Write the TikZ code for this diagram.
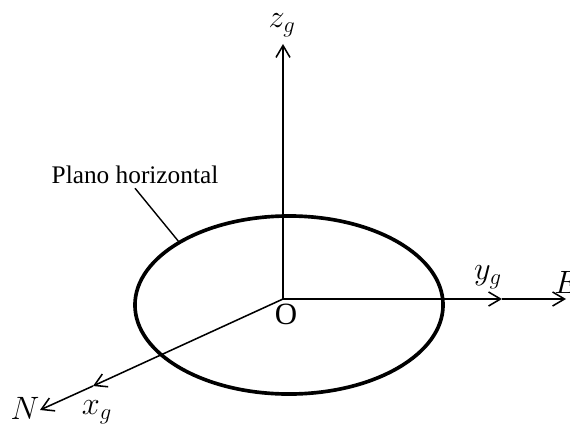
\documentclass[tikz,border=0pt]{standalone}
\usepackage{fix-cm}
\usepackage{fontspec}
\setmainfont{Liberation Serif}
\usetikzlibrary{shapes.geometric,arrows.meta}
\begin{document}
\begin{tikzpicture}[x=0.025cm, y=-0.025cm, >={Straight Barb[length=8.5pt,width=10pt]}]
        \tikzstyle{eje}=[line width=1.1pt];
        \tikzstyle{rotulo}=[font=\fontsize{23}{27}\selectfont, inner sep=0pt];
        \useasboundingbox (0,0) rectangle (570,427);

        \coordinate (O) at (283,299);
        \coordinate (ztip) at (283,44);
        \coordinate (ymid) at (502,299);
        \coordinate (ytip) at (566,299);
        \coordinate (xmid) at (93,386);
        \coordinate (xtip) at (40,410);

        \node[ellipse, draw, line width=2.6pt, minimum width=7.7cm, minimum height=4.45cm] (plano) at (289,305) {};

        \draw[eje, ->] (O) -- (ztip);
        \draw[eje, ->] (O) -- (ymid);
        \draw[eje, ->] (ymid) -- (ytip);
        \draw[eje, ->] (O) -- (xmid);
        \draw[eje, ->] (xmid) -- (xtip);

        \node[rotulo] (zg) at (282,25) {$z_g$};
        \node[rotulo] (yg) at (488,277) {$y_g$};
        \node[rotulo] (E) at (567,282) {$E$};
        \node[rotulo] (N) at (25,408) {$N$};
        \node[rotulo] (xg) at (97,412) {$x_g$};
        \node[font=\fontsize{22}{26}\selectfont, inner sep=0pt] (origen) at (286,314) {O};
        \node[font=\fontsize{18}{22}\selectfont, anchor=base] (texto) at (135,183) {Plano horizontal};

        \draw[line width=1pt] (texto.south) -- (plano.150);
    \end{tikzpicture}
\end{document}
